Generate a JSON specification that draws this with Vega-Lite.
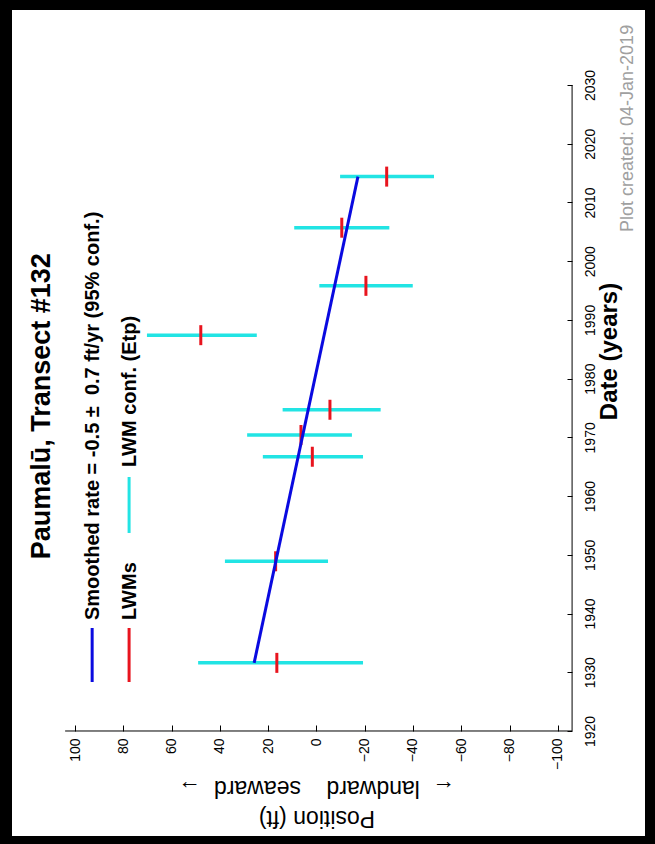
{
  "$schema": "https://vega.github.io/schema/vega-lite/v6.json",
  "width": 633,
  "height": 826,
  "autosize": "none",
  "padding": {"left": 12, "top": 10, "right": 10, "bottom": 8},
  "background": "black",
  "config": {"view": {"fill": "white", "stroke": null}, "font": "Liberation Sans"},
  "data": {"values": [{}]},
  "datasets": {
    "lwm": [
      {"year": 1931.6, "pos": 16.4, "lo": 49.0, "hi": -19.3},
      {"year": 1948.9, "pos": 16.9, "lo": 37.9, "hi": -4.8},
      {"year": 1966.7, "pos": 1.7, "lo": 22.2, "hi": -19.3},
      {"year": 1970.4, "pos": 6.4, "lo": 28.7, "hi": -14.7},
      {"year": 1974.7, "pos": -5.6, "lo": 14.0, "hi": -26.6},
      {"year": 1987.4, "pos": 47.9, "lo": 70.2, "hi": 24.7},
      {"year": 1995.8, "pos": -20.5, "lo": -1.2, "hi": -39.9},
      {"year": 2005.7, "pos": -10.5, "lo": 9.2, "hi": -30.2},
      {"year": 2014.4, "pos": -29.1, "lo": -9.8, "hi": -48.7}
    ],
    "trend": [
      {"year": 1931.6, "pos": 25.8},
      {"year": 2014.4, "pos": -17.2}
    ]
  },
  "layer": [
    {
      "data": {"name": "lwm"},
      "mark": {"type": "rule", "color": "#22e4e4", "strokeWidth": 3.5},
      "encoding": {
        "x": {
          "field": "lo", "type": "quantitative",
          "scale": {"domain": [-136.1, 126.1], "reverse": true, "nice": false, "zero": false},
          "axis": {
            "orient": "bottom", "offset": -105,
            "values": [-100, -80, -60, -40, -20, 0, 20, 40, 60, 80, 100],
            "domain": false, "grid": false,
            "tickSize": -6, "tickColor": "black", "tickWidth": 1,
            "labelAngle": 270, "labelAlign": "right", "labelBaseline": "middle",
            "labelPadding": 13, "labelFontSize": 14, "labelColor": "black",
            "title": ["Position (ft)", "←\u00a0 landward\u00a0\u00a0\u00a0 seaward\u00a0 →"],
            "titleAngle": 180, "titleFontSize": 23, "titleFontWeight": "normal",
            "titleColor": "black", "titleLineHeight": 30,
            "titleAlign": "center", "titleBaseline": "middle",
            "titleX": 304.4, "titleY": 86
          }
        },
        "x2": {"field": "hi"},
        "y": {
          "field": "year", "type": "quantitative",
          "scale": {"domain": [1902.12, 2042.77], "nice": false, "zero": false},
          "axis": {
            "orient": "right", "offset": -73,
            "values": [1920, 1930, 1940, 1950, 1960, 1970, 1980, 1990, 2000, 2010, 2020, 2030],
            "format": "d",
            "domain": false, "grid": false,
            "tickSize": -5, "tickColor": "black", "tickWidth": 1,
            "labelAngle": 270, "labelAlign": "center", "labelBaseline": "middle",
            "labelPadding": 23, "labelFontSize": 14, "labelColor": "black",
            "title": "Date (years)",
            "titleAngle": 270, "titleFontSize": 24, "titleFontWeight": "bold",
            "titleColor": "black", "titleAlign": "center", "titleBaseline": "middle",
            "titleX": 37, "titleY": 341
          }
        }
      }
    },
    {
      "data": {"name": "lwm"},
      "mark": {"type": "tick", "orient": "vertical", "color": "#e8141e", "opacity": 1, "size": 20, "thickness": 3},
      "encoding": {
        "x": {"field": "pos", "type": "quantitative"},
        "y": {"field": "year", "type": "quantitative"}
      }
    },
    {
      "data": {"name": "trend"},
      "mark": {"type": "line", "color": "#0a0ae0", "strokeWidth": 3},
      "encoding": {
        "x": {"field": "pos", "type": "quantitative"},
        "y": {"field": "year", "type": "quantitative"},
        "order": {"field": "year"}
      }
    },
    {
      "mark": {"type": "rule", "color": "black", "strokeWidth": 1},
      "encoding": {
        "x": {"datum": 104.1, "type": "quantitative"},
        "x2": {"datum": -105.9},
        "y": {"datum": 1920, "type": "quantitative"}
      }
    },
    {
      "mark": {"type": "rule", "color": "black", "strokeWidth": 1},
      "encoding": {
        "x": {"datum": -105.9, "type": "quantitative"},
        "y": {"datum": 1920, "type": "quantitative"},
        "y2": {"datum": 2030}
      }
    },
    {
      "mark": {"type": "rule", "color": "#0a0ae0", "strokeWidth": 3},
      "encoding": {
        "x": {"datum": 92.9, "type": "quantitative"},
        "y": {"datum": 1928.34, "type": "quantitative"},
        "y2": {"datum": 1937.54}
      }
    },
    {
      "mark": {"type": "rule", "color": "#e8141e", "strokeWidth": 3},
      "encoding": {
        "x": {"datum": 77.6, "type": "quantitative"},
        "y": {"datum": 1928.34, "type": "quantitative"},
        "y2": {"datum": 1937.54}
      }
    },
    {
      "mark": {"type": "rule", "color": "#22e4e4", "strokeWidth": 3},
      "encoding": {
        "x": {"datum": 77.6, "type": "quantitative"},
        "y": {"datum": 1953.72, "type": "quantitative"},
        "y2": {"datum": 1963.25}
      }
    },
    {
      "mark": {"type": "text", "text": "Paumalū, Transect #132", "angle": 270, "align": "center", "baseline": "middle", "fontSize": 27, "fontWeight": "bold", "color": "black"},
      "encoding": {
        "x": {"datum": 113.5, "type": "quantitative"},
        "y": {"datum": 1975.3, "type": "quantitative"}
      }
    },
    {
      "mark": {"type": "text", "text": "Smoothed rate = -0.5 ±\u00a0 0.7 ft/yr (95% conf.)", "angle": 270, "align": "left", "baseline": "middle", "fontSize": 20, "fontWeight": "bold", "color": "black"},
      "encoding": {
        "x": {"datum": 92.5, "type": "quantitative"},
        "y": {"datum": 1938.9, "type": "quantitative"}
      }
    },
    {
      "mark": {"type": "text", "text": "LWMs", "angle": 270, "align": "left", "baseline": "middle", "fontSize": 20, "fontWeight": "bold", "color": "black"},
      "encoding": {
        "x": {"datum": 77.4, "type": "quantitative"},
        "y": {"datum": 1938.9, "type": "quantitative"}
      }
    },
    {
      "mark": {"type": "text", "text": "LWM conf. (Etp)", "angle": 270, "align": "left", "baseline": "middle", "fontSize": 20, "fontWeight": "bold", "color": "black"},
      "encoding": {
        "x": {"datum": 77.4, "type": "quantitative"},
        "y": {"datum": 1964.95, "type": "quantitative"}
      }
    },
    {
      "mark": {"type": "text", "text": "Plot created: 04-Jan-2019", "angle": 270, "align": "left", "baseline": "middle", "fontSize": 18, "color": "#a0a0a0"},
      "encoding": {
        "x": {"datum": -129.1, "type": "quantitative"},
        "y": {"datum": 2004.97, "type": "quantitative"}
      }
    }
  ]
}
